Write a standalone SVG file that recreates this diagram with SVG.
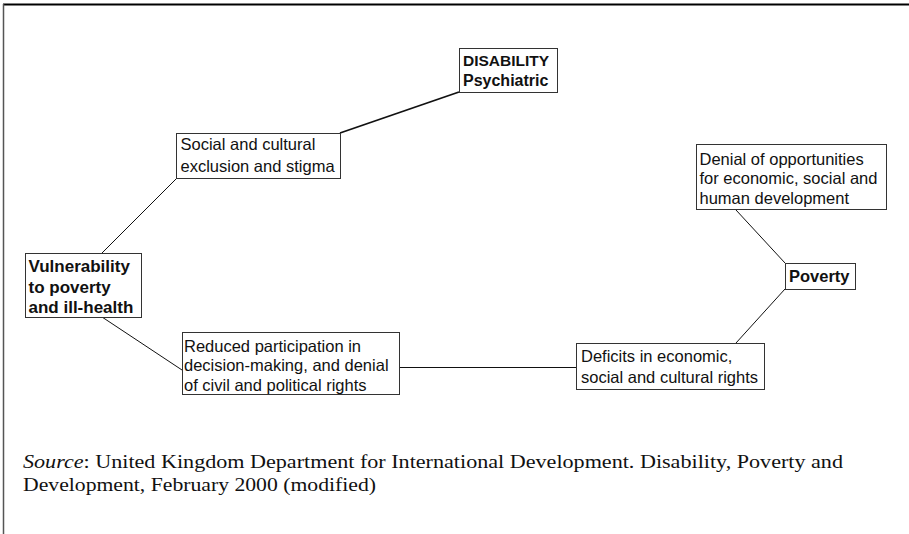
<svg xmlns="http://www.w3.org/2000/svg" width="909" height="534" viewBox="0 0 909 534">
<style>
.box{fill:#fff;stroke:#333;stroke-width:1}
.t{font-family:"Liberation Sans",Arial,sans-serif;font-size:16.5px;fill:#111}
.b{font-family:"Liberation Sans",Arial,sans-serif;font-size:16px;font-weight:bold;fill:#111}
.c line{stroke:#111;stroke-width:1}
.src{font-family:"Liberation Serif","Times New Roman",serif;font-size:19px;fill:#111}
</style>
<rect x="0" y="0" width="909" height="534" fill="#fff"/>
<line x1="3" y1="4.5" x2="909" y2="4.5" stroke="#000" stroke-width="2"/>
<line x1="3.5" y1="4" x2="3.5" y2="534" stroke="#555" stroke-width="1.5"/>
<g class="c" id="connectors">
<line x1="340" y1="133" x2="459" y2="92" style="stroke-width:1.8"/>
<line x1="102" y1="253" x2="176" y2="179"/>
<line x1="102" y1="317" x2="182" y2="370"/>
<line x1="399" y1="367.5" x2="576" y2="367.5"/>
<line x1="736" y1="343" x2="785" y2="289"/>
<line x1="736" y1="210" x2="785" y2="263"/>
</g>
<g id="disability">
<rect class="box" x="459.5" y="48.5" width="98" height="44"/>
<text class="b" x="463" y="66" style="font-size:15.5px">DISABILITY</text>
<text class="b" x="463" y="86">Psychiatric</text>
</g>
<g id="social">
<rect class="box" x="176.5" y="133.5" width="164" height="45"/>
<text class="t" x="180.5" y="150">Social and cultural</text>
<text class="t" x="180.5" y="171.5">exclusion and stigma</text>
</g>
<g id="vulnerability">
<rect class="box" x="25.5" y="253.5" width="116" height="64"/>
<text class="b" x="28.5" y="272" style="font-size:17px">Vulnerability</text>
<text class="b" x="28.5" y="292.5" style="font-size:17px">to poverty</text>
<text class="b" x="28.5" y="313" style="font-size:17px">and ill-health</text>
</g>
<g id="reduced">
<rect class="box" x="182.5" y="332.5" width="217" height="62"/>
<text class="t" x="184" y="351.5">Reduced participation in</text>
<text class="t" x="184" y="371">decision-making, and denial</text>
<text class="t" x="184" y="390.5">of civil and political rights</text>
</g>
<g id="deficits">
<rect class="box" x="576.5" y="343.5" width="188" height="46"/>
<text class="t" x="581" y="361.5">Deficits in economic,</text>
<text class="t" x="581" y="383">social and cultural rights</text>
</g>
<g id="denial">
<rect class="box" x="696.5" y="144.5" width="190" height="65"/>
<text class="t" x="699.5" y="164.5">Denial of opportunities</text>
<text class="t" x="699.5" y="184">for economic, social and</text>
<text class="t" x="699.5" y="203.5">human development</text>
</g>
<g id="poverty">
<rect class="box" x="785.5" y="263.5" width="70" height="26"/>
<text class="b" x="789" y="282" style="font-size:16.5px">Poverty</text>
</g>
<g id="source">
<text class="src" x="23" y="468" textLength="820" lengthAdjust="spacingAndGlyphs"><tspan font-style="italic">Source</tspan>: United Kingdom Department for International Development. Disability, Poverty and</text>
<text class="src" x="23" y="491" textLength="353" lengthAdjust="spacingAndGlyphs">Development, February 2000 (modified)</text>
</g>
</svg>
